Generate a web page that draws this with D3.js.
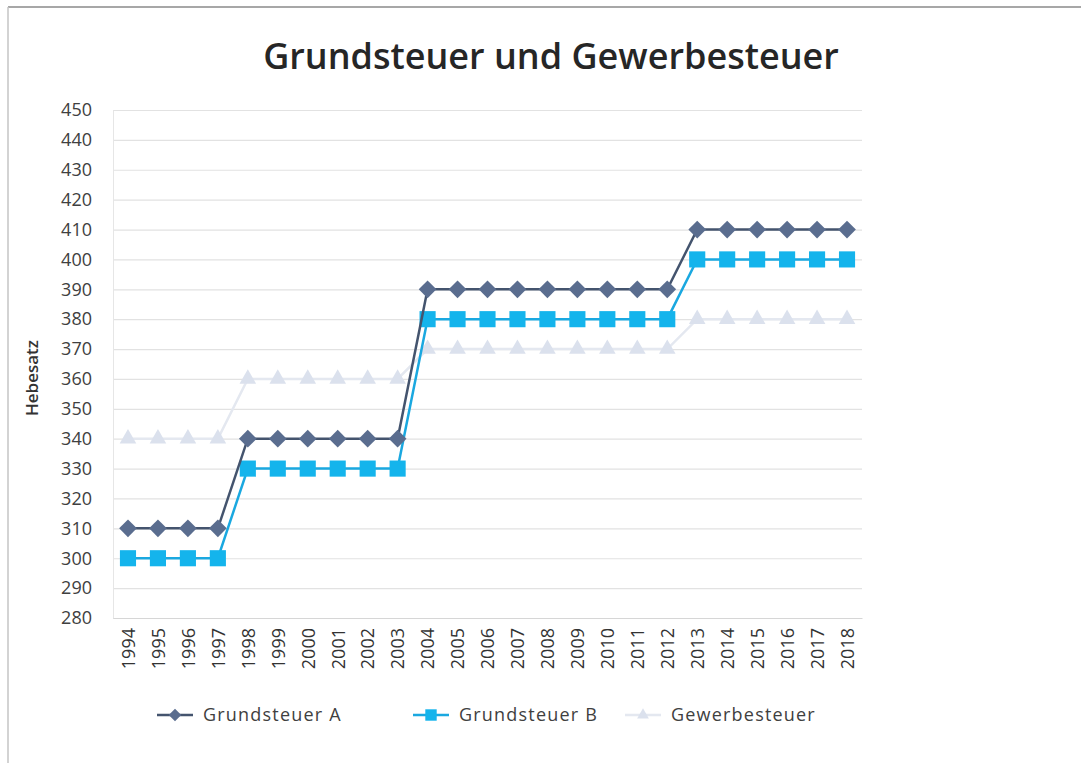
<!DOCTYPE html>
<html>
<head>
<meta charset="utf-8">
<script src="https://cdn.jsdelivr.net/npm/d3@7"></script>
<style>
  body { margin: 0; background: #fff; }
</style>
</head>
<body>
<div id="chart"></div>
<script>
const years = ['1994','1995','1996','1997','1998','1999','2000','2001','2002','2003','2004','2005','2006',
               '2007','2008','2009','2010','2011','2012','2013','2014','2015','2016','2017','2018'];
const grundsteuerA = [310,310,310,310,340,340,340,340,340,340,390,390,390,390,390,390,390,390,390,410,410,410,410,410,410];
const grundsteuerB = [300,300,300,300,330,330,330,330,330,330,380,380,380,380,380,380,380,380,380,400,400,400,400,400,400];
const gewerbesteuer = [340,340,340,340,360,360,360,360,360,360,370,370,370,370,370,370,370,370,370,380,380,380,380,380,380];
const yTicks = d3.range(280, 451, 10);

const width = 1081;
const height = 763;
const margin = {top: 110, right: 219, bottom: 145, left: 113};
const innerWidth = width - margin.left - margin.right;
const innerHeight = height - margin.top - margin.bottom;
const font = 'Open Sans, sans-serif';

const series = [
  {name: 'Grundsteuer A', values: grundsteuerA, line: '#44546e', fill: '#5a6d8f', shape: d3.symbolDiamond2, size: 200},
  {name: 'Grundsteuer B', values: grundsteuerB, line: '#1aa8e0', fill: '#14b4ec', shape: d3.symbolSquare, size: 260},
  {name: 'Gewerbesteuer', values: gewerbesteuer, line: '#e4e8f0', fill: '#dbe1ed', shape: d3.symbolTriangle, size: 120}
];

const svg = d3.select('#chart').append('svg')
  .attr('width', width)
  .attr('height', height);

// chart frame
svg.append('line').attr('x1', 8).attr('x2', width).attr('y1', 7).attr('y2', 7)
  .attr('stroke', '#8a8a8a').attr('stroke-width', 1.5);
svg.append('line').attr('x1', 8).attr('x2', 8).attr('y1', 7).attr('y2', height)
  .attr('stroke', '#c4c4c4').attr('stroke-width', 1.5);

svg.append('text')
  .attr('x', 551).attr('y', 69)
  .attr('text-anchor', 'middle')
  .style('font-family', font).style('font-size', '36px').style('font-weight', 600)
  .attr('fill', '#262626')
  .text('Grundsteuer und Gewerbesteuer');

const g = svg.append('g').attr('transform', `translate(${margin.left},${margin.top})`);

const xScale = d3.scalePoint().domain(years).range([0, innerWidth]).padding(0.5);
const yScale = d3.scaleLinear().domain([280, 450]).range([innerHeight, 0]);

// gridlines
g.append('g')
  .call(d3.axisLeft(yScale).tickValues(yTicks).tickSize(-innerWidth).tickFormat(''))
  .call(a => a.select('.domain').remove())
  .call(a => a.selectAll('.tick line').attr('stroke', '#e2e2e2').attr('stroke-width', 1.2));

// y axis labels
g.append('g')
  .call(d3.axisLeft(yScale).tickValues(yTicks).tickSize(0).tickPadding(21))
  .call(a => a.select('.domain').attr('stroke', '#e6e6e6'))
  .call(a => a.selectAll('.tick text')
    .style('font-family', font).style('font-size', '18px').attr('fill', '#404040'));

// x axis
g.append('g')
  .attr('transform', `translate(0,${innerHeight})`)
  .call(d3.axisBottom(xScale).tickSize(0))
  .call(a => a.select('.domain').attr('stroke', '#d6d6d6'))
  .call(a => a.selectAll('.tick text')
    .style('font-family', font).style('font-size', '18px').attr('fill', '#333')
    .attr('text-anchor', 'end')
    .attr('transform', 'rotate(-90)')
    .attr('x', -10).attr('y', 0).attr('dy', '0.35em'));

svg.append('text')
  .attr('transform', `translate(38,${margin.top + innerHeight / 2 + 14}) rotate(-90)`)
  .attr('text-anchor', 'middle')
  .style('font-family', font).style('font-size', '17px').style('font-weight', 600)
  .attr('fill', '#333')
  .text('Hebesatz');

const line = d3.line()
  .x((d, i) => xScale(years[i]))
  .y(d => yScale(d));

// draw back to front so Gewerbesteuer sits underneath
[...series].reverse().forEach(s => {
  g.append('path')
    .datum(s.values)
    .attr('fill', 'none')
    .attr('stroke', s.line)
    .attr('stroke-width', 2.5)
    .attr('d', line);
  g.selectAll(null)
    .data(s.values)
    .join('path')
    .attr('transform', (d, i) => `translate(${xScale(years[i])},${yScale(d)})`)
    .attr('d', d3.symbol().type(s.shape).size(s.size))
    .attr('fill', s.fill);
});

// legend
const legendX = [157, 413, 625];
const legend = svg.append('g').attr('transform', 'translate(0,715)');
series.forEach((s, i) => {
  const lg = legend.append('g').attr('transform', `translate(${legendX[i]},0)`);
  lg.append('line').attr('x1', 0).attr('x2', 36).attr('y1', 0).attr('y2', 0)
    .attr('stroke', s.line).attr('stroke-width', 2.5);
  lg.append('path').attr('transform', 'translate(18,0)')
    .attr('d', d3.symbol().type(s.shape).size(s.size * 0.5))
    .attr('fill', s.fill);
  lg.append('text').attr('x', 46).attr('y', 0).attr('dy', '0.35em')
    .style('font-family', font).style('font-size', '18px').style('letter-spacing', '1.2px')
    .attr('fill', '#404040')
    .text(s.name);
});
</script>
</body>
</html>
